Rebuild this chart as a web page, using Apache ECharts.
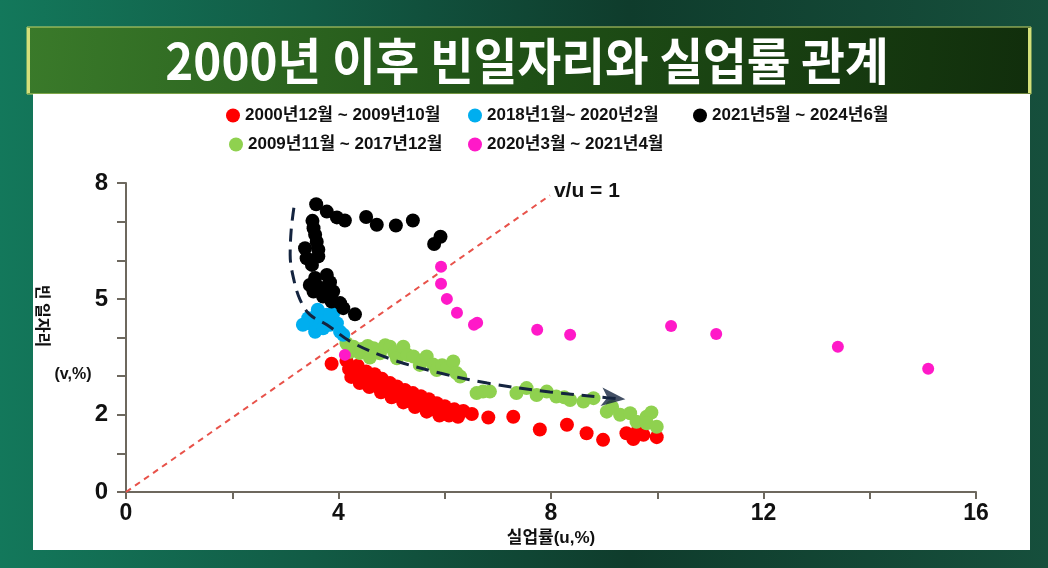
<!DOCTYPE html>
<html><head><meta charset="utf-8">
<script src="https://cdn.jsdelivr.net/npm/echarts@6/dist/echarts.min.js"></script>
<style>html,body{margin:0;padding:0;background:#fff}#c{width:1048px;height:568px}</style>
</head><body><div id="c"></div>
<script>
const titleText = '2000년 이후 빈일자리와 실업률 관계';
const seriesNames = ['2000년12월 ~ 2009년10월', '2009년11월 ~ 2017년12월', '2018년1월~ 2020년2월', '2020년3월 ~ 2021년4월', '2021년5월 ~ 2024년6월'];
const xAxisTitle = '실업률(u,%)';
const yAxisTitle = '빈 일자리';
const yAxisUnit = '(v,%)';
const parityLabel = 'v/u = 1';
const xTickLabels = [0, 4, 8, 12, 16];
const yTickLabels = [0, 2, 5, 8];

const redPoints = [[3.87,3.32],[4.15,3.40],[4.20,3.18],[4.24,2.98],[4.28,3.02],[4.36,3.27],[4.40,2.82],[4.45,2.95],[4.52,3.12],[4.58,2.72],[4.60,2.85],[4.68,3.05],[4.75,2.72],[4.80,2.58],[4.82,2.93],[4.90,2.62],[4.97,2.82],[5.00,2.45],[5.04,2.52],[5.10,2.73],[5.18,2.45],[5.22,2.32],[5.25,2.64],[5.32,2.36],[5.40,2.56],[5.44,2.20],[5.47,2.30],[5.55,2.48],[5.62,2.22],[5.66,2.08],[5.70,2.40],[5.78,2.14],[5.85,2.30],[5.90,1.98],[5.93,2.06],[6.00,2.22],[6.08,1.98],[6.18,2.14],[6.25,1.95],[6.35,2.10],[6.51,2.02],[6.82,1.93],[7.29,1.95],[7.79,1.62],[8.30,1.74],[8.67,1.52],[8.98,1.35],[9.42,1.52],[9.55,1.37],[9.62,1.55],[9.74,1.48],[9.99,1.42]];
const greenPoints = [[4.15,3.85],[4.22,3.63],[4.28,3.76],[4.40,3.60],[4.44,3.70],[4.55,3.78],[4.59,3.48],[4.66,3.72],[4.78,3.59],[4.88,3.80],[4.97,3.76],[5.05,3.62],[5.10,3.46],[5.22,3.76],[5.30,3.55],[5.41,3.51],[5.53,3.29],[5.60,3.42],[5.66,3.51],[5.78,3.30],[5.85,3.16],[5.95,3.28],[6.04,3.20],[6.16,3.38],[6.22,3.08],[6.29,2.99],[6.60,2.56],[6.72,2.60],[6.85,2.60],[7.35,2.56],[7.54,2.69],[7.73,2.51],[7.92,2.60],[8.10,2.47],[8.25,2.45],[8.36,2.38],[8.61,2.34],[8.80,2.43],[9.05,2.08],[9.15,2.20],[9.30,2.00],[9.49,2.04],[9.61,1.82],[9.80,1.95],[9.89,2.06],[9.80,1.78],[9.99,1.69]];
const bluePoints = [[3.46,4.37],[3.43,4.50],[3.56,4.15],[3.65,4.46],[3.78,4.59],[3.90,4.63],[3.97,4.37],[4.03,4.15],[4.09,4.07],[3.71,4.24],[3.84,4.33],[3.59,4.59],[3.33,4.33],[3.61,4.72]];
const pinkPoints = [[5.93,5.83],[5.93,5.39],[6.04,5.00],[6.23,4.64],[6.61,4.38],[6.55,4.33],[7.74,4.20],[8.36,4.07],[10.26,4.30],[11.11,4.09],[13.40,3.76],[15.10,3.19],[4.12,3.55]];
const blackPoints = [[3.58,7.45],[3.78,7.26],[3.97,7.11],[4.12,7.03],[4.52,7.12],[4.72,6.92],[5.08,6.90],[5.40,7.03],[5.92,6.61],[5.80,6.42],[3.51,7.02],[3.53,6.83],[3.56,6.66],[3.59,6.48],[3.37,6.31],[3.62,6.27],[3.40,6.05],[3.62,6.10],[3.50,5.88],[3.78,5.62],[3.56,5.54],[3.84,5.43],[3.46,5.36],[3.68,5.28],[3.53,5.19],[3.90,5.19],[3.71,5.06],[3.87,4.93],[4.03,4.89],[4.09,4.76],[4.31,4.60]];
const trendPath = [[3.16,7.36],[3.11,6.79],[3.09,6.14],[3.16,5.49],[3.28,4.97],[3.46,4.59],[3.78,4.33],[4.27,3.86],[5.03,3.42],[5.91,3.08],[6.80,2.82],[7.98,2.59],[9.05,2.44],[9.30,2.41]];
const trendArrow = [[9.40,2.40]];
const parityLine = [[0,0],[7.98,7.68]];

const colors = ['#ff0000', '#8fd14f', '#00aeef', '#ff19c8', '#000000'];
const FONT = "'Liberation Sans', 'Noto Sans CJK KR', sans-serif";

const chart = echarts.init(document.getElementById('c'), null, {renderer: 'canvas'});

const legendPos = [[226,107],[229,136],[468,107],[468,136],[693,107]];
const legends = seriesNames.map((n, i) => ({
  data: [n], left: legendPos[i][0], top: legendPos[i][1], icon: 'circle',
  itemWidth: 14, itemHeight: 14, itemGap: 5, padding: 0,
  textStyle: {fontFamily: FONT, fontWeight: 'bold', fontSize: 17, color: '#111'}
}));

const pointSeries = [redPoints, greenPoints, bluePoints, pinkPoints, blackPoints].map((d, i) => ({
  name: seriesNames[i], type: 'scatter', data: d,
  symbolSize: i === 3 ? 12 : 14, itemStyle: {color: colors[i], opacity: 1}, z: 3
}));

const option = {
  animation: false,
  textStyle: {fontFamily: FONT},
  graphic: [
    {type: 'rect', z: -10, shape: {x: 0, y: 0, width: 1048, height: 568},
     style: {fill: new echarts.graphic.LinearGradient(0, 0, 1, 0, [
       {offset: 0, color: '#13785b'}, {offset: 0.3, color: '#125b45'},
       {offset: 0.6, color: '#0f3c2c'}, {offset: 1, color: '#164f3c'}])}},
    {type: 'rect', z: -9, shape: {x: 27, y: 27, width: 1004, height: 67},
     style: {fill: new echarts.graphic.LinearGradient(0, 0, 1, 1, [
       {offset: 0, color: '#3a7a2a'}, {offset: 0.5, color: '#1f5016'}, {offset: 1, color: '#112e0c'}]),
       stroke: '#c6d66a', lineWidth: 1}},
    {type: 'rect', z: -8, shape: {x: 27, y: 28, width: 3, height: 65}, style: {fill: '#d4e07a'}},
    {type: 'rect', z: -8, shape: {x: 1028, y: 28, width: 3, height: 65}, style: {fill: '#d4e07a'}},
    {type: 'rect', z: -8, shape: {x: 33, y: 94, width: 997, height: 456}, style: {fill: '#ffffff'}},
    {type: 'text', z: -7, x: 527, y: 61, scaleX: 0.95,
     style: {text: titleText, fill: '#ffffff', font: "bold 50px 'Noto Sans CJK KR', sans-serif",
       textAlign: 'center', textVerticalAlign: 'middle'}},
    {type: 'text', z: 5, x: 43, y: 316, rotation: -Math.PI / 2,
     style: {text: yAxisTitle, fill: '#111', font: "bold 16px 'Noto Sans CJK KR', sans-serif",
       textAlign: 'center', textVerticalAlign: 'middle'}},
    {type: 'text', z: 5, x: 73, y: 375,
     style: {text: yAxisUnit, fill: '#111', font: "bold 16px " + FONT,
       textAlign: 'center', textVerticalAlign: 'middle'}}
  ],
  legend: legends,
  grid: {left: 126, right: 72, top: 183, bottom: 76, containLabel: false},
  xAxis: {
    type: 'value', min: 0, max: 16, interval: 2,
    axisLine: {lineStyle: {color: '#6d685e', width: 2}},
    axisTick: {show: true, length: 7, lineStyle: {color: '#6d685e', width: 2}},
    splitLine: {show: false},
    axisLabel: {formatter: v => xTickLabels.includes(v) ? String(v) : '', fontFamily: FONT,
      fontWeight: 'bold', fontSize: 23, color: '#111', margin: 10},
    name: xAxisTitle, nameLocation: 'middle', nameGap: 36,
    nameTextStyle: {fontFamily: FONT, fontWeight: 'bold', fontSize: 17, color: '#111'}
  },
  yAxis: {
    type: 'value', min: 0, max: 8, interval: 1,
    axisLine: {lineStyle: {color: '#6d685e', width: 2}},
    axisTick: {show: true, length: 9, lineStyle: {color: '#6d685e', width: 2}},
    splitLine: {show: false},
    axisLabel: {formatter: v => yTickLabels.includes(v) ? String(v) : '', fontFamily: FONT,
      fontWeight: 'bold', fontSize: 24, color: '#111', margin: 18}
  },
  series: [
    {name: 'parity', type: 'line', data: parityLine, symbol: 'none', silent: true, z: 1,
     lineStyle: {color: '#e8524a', width: 2, type: [6, 5]},
     endLabel: {show: true, formatter: parityLabel, fontFamily: FONT, fontWeight: 'bold',
       fontSize: 21, color: '#111', offset: [0, -4], distance: 4}},
    ...pointSeries,
    {name: 'trend', type: 'line', data: trendPath, smooth: 0.35, symbol: 'none', silent: true, z: 6,
     lineStyle: {color: '#14243f', width: 3, type: [13, 8]}},
    {name: 'trendArrow', type: 'scatter', data: trendArrow, symbol: 'arrow', symbolSize: [14, 24],
     symbolRotate: -96, itemStyle: {color: '#14243f'}, silent: true, z: 6}
  ]
};
chart.setOption(option);
</script>
</body></html>
